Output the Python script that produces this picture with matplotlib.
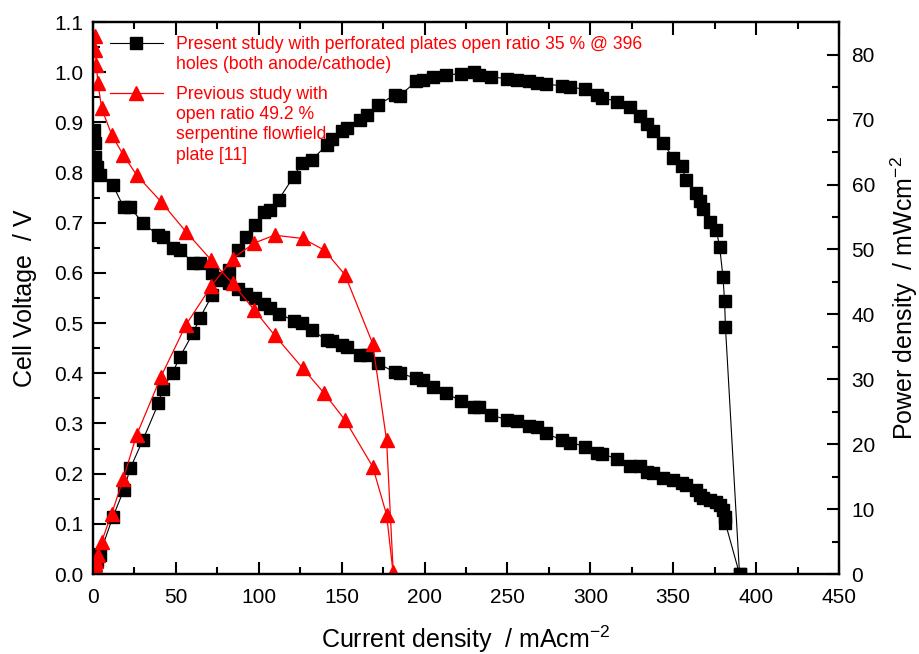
import matplotlib
matplotlib.use("Agg")
import matplotlib.pyplot as plt
from matplotlib.lines import Line2D
from matplotlib.ticker import MultipleLocator

plt.rcParams['font.family'] = ['Liberation Sans', 'DejaVu Sans']
plt.rcParams['mathtext.fontset'] = 'custom'
plt.rcParams['mathtext.rm'] = 'Liberation Sans'
plt.rcParams['mathtext.it'] = 'Liberation Sans'

# present study (perforated plates), current density in mA/cm2
present_current = [0.5, 1.0, 1.5, 2.5, 4.0, 12, 18.5, 22.5, 30, 39.5,
                   42, 48, 52.5, 60.5, 64.5, 72, 75, 82, 87.5, 92.5,
                   98, 103, 107, 112, 121, 126, 132, 141, 144, 150,
                   153, 161, 165, 172, 182, 185, 195, 199, 205, 213,
                   222, 230, 233, 240, 250, 256, 263, 268, 273, 283,
                   288, 297, 304, 307, 316, 324, 330, 334, 338, 344,
                   350, 355, 358, 364, 366, 368, 372, 376, 378, 380,
                   381, 381.5, 390]
present_voltage = [0.885, 0.859, 0.831, 0.811, 0.795, 0.775, 0.731, 0.731, 0.699, 0.675,
                   0.672, 0.649, 0.645, 0.620, 0.619, 0.599, 0.589, 0.579, 0.567, 0.557,
                   0.550, 0.538, 0.530, 0.519, 0.505, 0.500, 0.486, 0.466, 0.465, 0.456,
                   0.452, 0.436, 0.436, 0.420, 0.402, 0.400, 0.390, 0.387, 0.373, 0.360,
                   0.345, 0.333, 0.332, 0.317, 0.307, 0.305, 0.294, 0.293, 0.280, 0.267,
                   0.262, 0.254, 0.242, 0.240, 0.229, 0.216, 0.215, 0.204, 0.201, 0.191,
                   0.187, 0.181, 0.177, 0.167, 0.157, 0.152, 0.147, 0.143, 0.137, 0.128,
                   0.114, 0.101, 0.0]
present_power = [0.4, 0.9, 1.3, 2.0, 3.0, 8.8, 12.9, 16.3, 20.6, 26.3,
                 28.5, 31.0, 33.5, 37.2, 39.5, 43.0, 45.3, 46.8, 49.9, 52.0,
                 53.8, 55.8, 56.1, 57.7, 61.2, 63.3, 63.8, 66.1, 67.1, 68.2,
                 68.7, 70.0, 70.7, 72.3, 73.8, 73.7, 75.9, 76.1, 76.6, 76.9,
                 77.1, 77.4, 76.9, 76.6, 76.3, 76.1, 75.9, 75.7, 75.5, 75.2,
                 75.0, 74.7, 73.8, 73.4, 72.8, 72.0, 70.5, 69.4, 68.2, 66.4,
                 64.1, 62.8, 60.7, 58.7, 57.4, 56.3, 54.3, 53.0, 50.4, 45.8,
                 42.0, 38.1, 0.0]

# previous study (serpentine flowfield plate)
previous_current = [1.0, 1.5, 2.0, 3.0, 5.2, 11.3, 18.3, 26.3, 41, 56.1,
                    71.2, 84.2, 97.3, 109.5, 126.5, 139.5, 152, 168.7, 177.1, 181.1]
previous_voltage = [1.072, 1.044, 1.014, 0.978, 0.928, 0.875, 0.835, 0.795, 0.742, 0.682,
                    0.626, 0.579, 0.526, 0.476, 0.410, 0.360, 0.307, 0.214, 0.118, 0.0]
previous_power = [1.1, 1.6, 2.0, 3.0, 5.0, 9.3, 14.7, 21.4, 30.4, 38.4,
                  44.3, 48.6, 51.0, 52.2, 51.7, 49.9, 46.1, 35.5, 20.6, 0.3]

present_lines = ["Present study with perforated plates open ratio 35 % @ 396",
                 "holes (both anode/cathode)"]
previous_lines = ["Previous study with", "open ratio 49.2 %",
                  "serpentine flowfield", "plate [11]"]

fig = plt.figure(figsize=(9.2, 6.54), dpi=100)
ax = fig.add_axes([93 / 920, 80 / 654, 746 / 920, 552 / 654])
ax2 = ax.twinx()

sq = dict(color='black', marker='s', markersize=8, linewidth=0.8)
tri = dict(color='#ff0000', marker='^', markersize=10, linewidth=0.9)

ax.plot(present_current, present_voltage, **sq)
ax2.plot(present_current, present_power, **sq)
# red voltage curve sits on the power axes so it is drawn above the black squares
ax2.plot(previous_current, previous_voltage, transform=ax.transData, **tri)
ax2.plot(previous_current, previous_power, **tri)

ax.set_xlim(0, 450)
ax.set_ylim(0, 1.1)
ax2.set_ylim(0, 85.05)

ax.xaxis.set_major_locator(MultipleLocator(50))
ax.xaxis.set_minor_locator(MultipleLocator(25))
ax.yaxis.set_major_locator(MultipleLocator(0.1))
ax.yaxis.set_minor_locator(MultipleLocator(0.05))
ax2.yaxis.set_major_locator(MultipleLocator(10))
ax2.yaxis.set_minor_locator(MultipleLocator(5))
ax.yaxis.set_major_formatter(plt.FormatStrFormatter('%.1f'))

for a in (ax, ax2):
    for s in a.spines.values():
        s.set_linewidth(1.6)
ax.tick_params(which='both', direction='in', top=True, right=False, width=1.5,
               labelsize=15)
ax.tick_params(axis='x', pad=10)
ax.tick_params(axis='y', pad=7)
ax.tick_params(which='major', length=9)
ax.tick_params(which='minor', length=5)
ax2.tick_params(which='both', direction='in', width=1.5, labelsize=15, pad=9)
ax2.tick_params(which='major', length=9)
ax2.tick_params(which='minor', length=5)

ax.set_xlabel("Current density  / mAcm$^{-2}$", fontsize=18, labelpad=12)
ax.set_ylabel("Cell Voltage  / V", fontsize=18, labelpad=12)
ax2.set_ylabel("Power density  / mWcm$^{-2}$", fontsize=18, labelpad=10)


def legend_block(handle, lines, top):
    # one handle next to the first line, the rest of the label lines below it
    blank = Line2D([], [], linestyle='none', marker='none')
    leg = ax2.legend([handle] + [blank] * (len(lines) - 1), lines,
                     loc='upper left', bbox_to_anchor=(17 / 746, 1 - top / 552),
                     frameon=False, fontsize=12.7, labelcolor='#ff0000',
                     handlelength=3.0, handletextpad=0.75, borderpad=0,
                     borderaxespad=0, labelspacing=0.18, numpoints=1)
    return leg


leg1 = legend_block(Line2D([], [], **sq), present_lines, 14)
ax2.add_artist(leg1)
legend_block(Line2D([], [], **tri), previous_lines, 64)

fig.savefig("out.png", dpi=100)
